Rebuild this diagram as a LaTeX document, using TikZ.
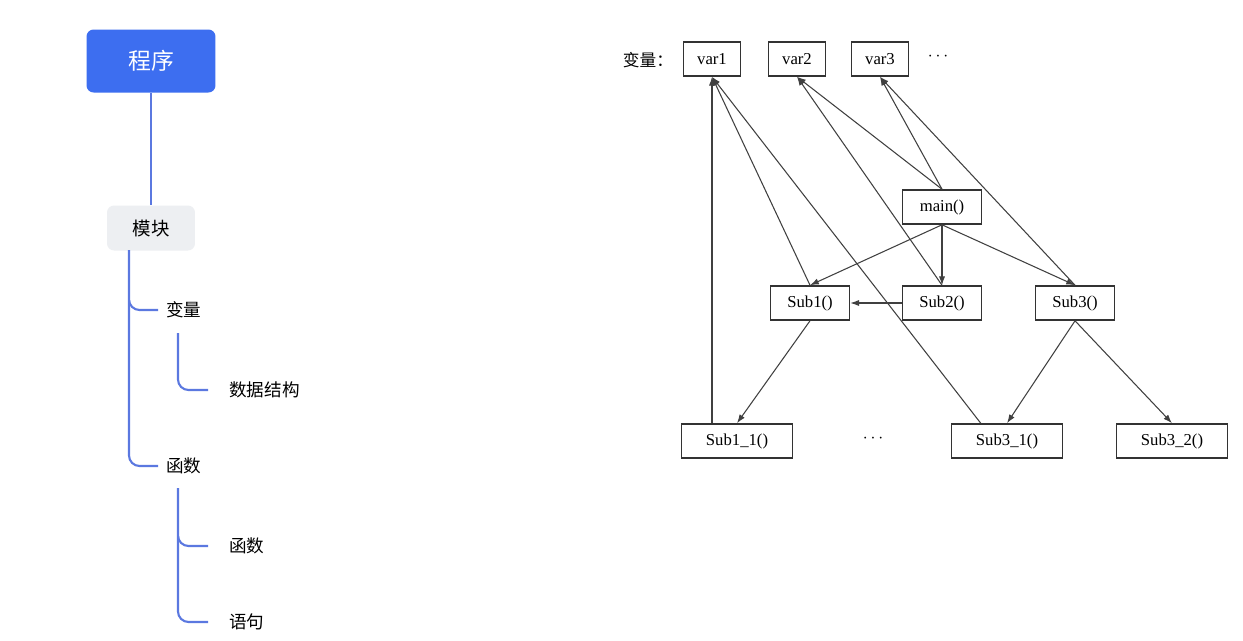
\documentclass[tikz,border=0pt]{standalone}
\usepackage{fontspec}
\setmainfont{Liberation Serif}
\newfontfamily\cjk{Noto Sans CJK SC}
\usetikzlibrary{arrows.meta}
\definecolor{progblue}{HTML}{3D6EF0}
\definecolor{modgray}{HTML}{EDEFF2}
\definecolor{treeline}{HTML}{5B78E0}
\begin{document}
\begin{tikzpicture}[x=0.02cm, y=-0.02cm]
      \tikzstyle{root} = [rectangle, rounded corners=4pt, fill=progblue, text=white, minimum width=2.58cm, minimum height=1.26cm, font=\cjk\fontsize{13}{15}\selectfont]
      \tikzstyle{module} = [rectangle, rounded corners=4pt, fill=modgray, minimum width=1.76cm, minimum height=0.9cm, font=\cjk\fontsize{10.5}{12}\selectfont]
      \tikzstyle{leaf} = [anchor=west, inner sep=0pt, font=\cjk\fontsize{10}{12}\selectfont]
      \tikzstyle{branch} = [treeline, line width=1.2pt, rounded corners=6pt]
      \tikzstyle{box} = [rectangle, draw=black!80, line width=0.9pt, minimum height=0.68cm, font=\fontsize{9.5}{11}\selectfont]
      \tikzstyle{arrow} = [black!75, line width=0.6pt, -{Latex[length=5pt,width=3.5pt]}]

      \useasboundingbox (0,0) rectangle (1243,640);
      \fill[white] (0,0) rectangle (1243,640);

      % left tree
      \node (program) [root] at (151,61) {程序};
      \node (module) [module] at (151,228) {模块};
      \node (variable) [leaf] at (166,310) {变量};
      \node (datastruct) [leaf] at (229,390) {数据结构};
      \node (function) [leaf] at (166,466) {函数};
      \node (subfunc) [leaf] at (229,546) {函数};
      \node (statement) [leaf] at (229,622) {语句};

      \draw [branch] (program) -- (module);
      \draw [branch] (129,250) |- (158,310);
      \draw [branch] (129,300) |- (158,466);
      \draw [branch] (178,333) |- (208,390);
      \draw [branch] (178,488) |- (208,546);
      \draw [branch] (178,536) |- (208,622);

      % right graph
      \node (varlabel) at (648,60) {\cjk\fontsize{9.5}{11}\selectfont 变量：};
      \node (var1) [box, minimum width=1.14cm] at (712,59) {var1};
      \node (var2) [box, minimum width=1.14cm] at (797,59) {var2};
      \node (var3) [box, minimum width=1.14cm] at (880,59) {var3};
      \node (vardots) at (938,57) {$\cdots$};
      \node (main) [box, minimum width=1.58cm] at (942,207) {main()};
      \node (sub1) [box, minimum width=1.58cm] at (810,303) {Sub1()};
      \node (sub2) [box, minimum width=1.58cm] at (942,303) {Sub2()};
      \node (sub3) [box, minimum width=1.58cm] at (1075,303) {Sub3()};
      \node (sub11) [box, minimum width=2.22cm] at (737,441) {Sub1\_1()};
      \node (subdots) at (873,439) {$\cdots$};
      \node (sub31) [box, minimum width=2.22cm] at (1007,441) {Sub3\_1()};
      \node (sub32) [box, minimum width=2.22cm] at (1172,441) {Sub3\_2()};

      \draw [arrow] (main.north) -- (var2.south);
      \draw [arrow] (main.north) -- (var3.south);
      \draw [arrow] (main.south) -- (sub1.north);
      \draw [arrow] (main.south) -- (sub2.north);
      \draw [arrow] (main.south) -- (sub3.north);
      \draw [arrow] (sub2) -- (sub1);
      \draw [arrow] (sub1.north) -- (var1.south);
      \draw [arrow] (sub2.north) -- (var2.south);
      \draw [arrow] (sub3.north) -- (var3.south);
      \draw [arrow] (sub31.north west) ++(30,0) -- (var1.south);
      \draw [arrow] (sub11.north -| var1) -- (var1.south);
      \draw [arrow] (sub1.south) -- (sub11.north);
      \draw [arrow] (sub3.south) -- (sub31.north);
      \draw [arrow] (sub3.south) -- (sub32.north);
\end{tikzpicture}
\end{document}
